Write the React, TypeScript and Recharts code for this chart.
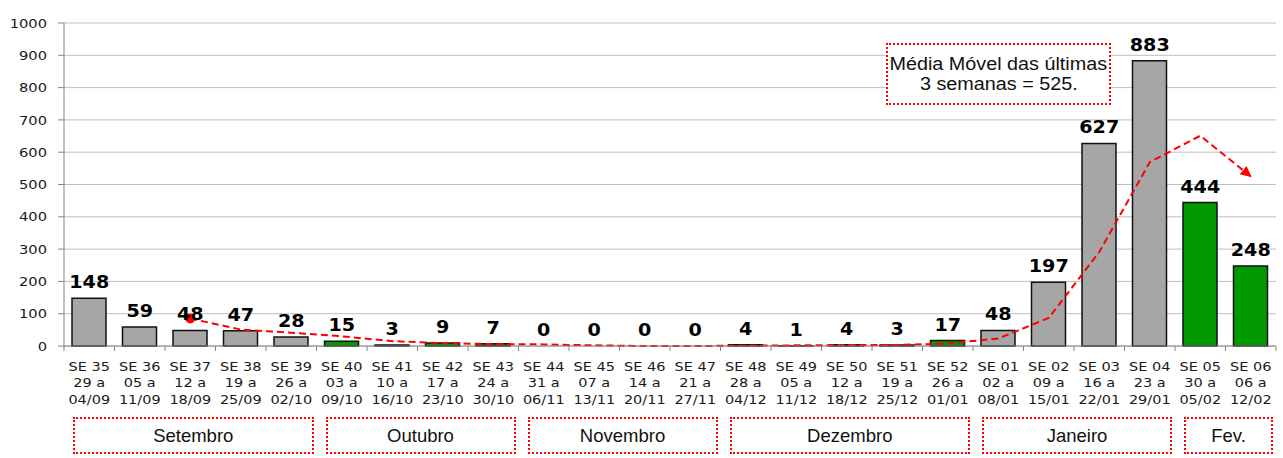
import React from 'react';
import { ComposedChart, Bar, Line, XAxis, YAxis, CartesianGrid, Cell, LabelList } from 'recharts';

const weeks = ['SE 35','SE 36','SE 37','SE 38','SE 39','SE 40','SE 41','SE 42','SE 43','SE 44','SE 45','SE 46','SE 47','SE 48','SE 49','SE 50','SE 51','SE 52','SE 01','SE 02','SE 03','SE 04','SE 05','SE 06'];
const weekStarts = ['29 a','05 a','12 a','19 a','26 a','03 a','10 a','17 a','24 a','31 a','07 a','14 a','21 a','28 a','05 a','12 a','19 a','26 a','02 a','09 a','16 a','23 a','30 a','06 a'];
const weekEnds = ['04/09','11/09','18/09','25/09','02/10','09/10','16/10','23/10','30/10','06/11','13/11','20/11','27/11','04/12','11/12','18/12','25/12','01/01','08/01','15/01','22/01','29/01','05/02','12/02'];
const cases = [148,59,48,47,28,15,3,9,7,0,0,0,0,4,1,4,3,17,48,197,627,883,444,248];
const movingAvg: (number | null)[] = [null,null,85,51,41,30,15,9,6,5,2,0,0,1,2,3,3,8,23,87,291,569,651,525];
const greenWeeks = ['SE 40','SE 42','SE 43','SE 52','SE 05','SE 06'];
const yTicks = [0,100,200,300,400,500,600,700,800,900,1000];
const monthNames = ['Setembro','Outubro','Novembro','Dezembro','Janeiro','Fev.'];
const monthWeekCounts = [5,4,4,5,4,2];
const noteLines = ['Média Móvel das últimas','3 semanas = 525.'];

const data = weeks.map((w, i) => ({ week: w, cases: cases[i], avg: movingAvg[i] }));

const W = 1283;
const H = 458;
const PLOT_LEFT = 64;
const PLOT_RIGHT = 1276;
const BAND = (PLOT_RIGHT - PLOT_LEFT) / weeks.length;
const FONT = '"DejaVu Sans", Verdana, sans-serif';
const ARIAL = '"Liberation Sans", Arial, sans-serif';

const SText = ({ x, y, sx, children, ...rest }: any) => (
  <text transform={`translate(${x},${y}) scale(${sx},1)`} x={0} y={0} {...rest}>{children}</text>
);

const YTick = ({ x, y, payload }: any) => (
  <SText x={x} y={y} sx={1.13} textAnchor="end" dominantBaseline="central" fontSize={13} fontFamily={FONT} fill="#1a1a1a">
    {payload.value}
  </SText>
);

const XTick = ({ x, y, payload }: any) => {
  const i = weeks.indexOf(payload.value);
  const lines = [weeks[i], weekStarts[i], weekEnds[i]];
  return (
    <g>
      <line x1={x - BAND / 2} x2={x - BAND / 2} y1={y} y2={y + 5} stroke="#868686" />
      {i === weeks.length - 1 && <line x1={x + BAND / 2} x2={x + BAND / 2} y1={y} y2={y + 5} stroke="#868686" />}
      {lines.map((t, k) => (
        <SText key={k} x={x} y={y + 24.7 + k * 16.7} sx={1.16} textAnchor="middle" fontSize={12.5} fontFamily={FONT} fill="#1a1a1a">
          {t}
        </SText>
      ))}
    </g>
  );
};

const ValueLabel = ({ x, y, value }: any) => (
  <SText x={x} y={y - 10} sx={1.1} textAnchor="middle" fontSize={17.4} fontWeight="bold" fontFamily={FONT} fill="#000">
    {value}
  </SText>
);

const renderDot = (props: any) => {
  const { cx, cy, index } = props;
  if (index === 2) return <circle key={`dot${index}`} cx={cx} cy={cy} r={5} fill="#FF0000" />;
  return <g key={`dot${index}`} />;
};

export default function App() {
  let acc = 0;
  const monthBoxes = monthNames.map((name, m) => {
    const first = acc;
    acc += monthWeekCounts[m];
    const left = PLOT_LEFT + first * BAND + 9;
    const width = monthWeekCounts[m] * BAND - 12;
    return (
      <div
        key={name}
        style={{
          position: 'absolute', left, top: 417, width, height: 37, boxSizing: 'border-box',
          border: '2px dotted #FF0000', display: 'flex', alignItems: 'center', justifyContent: 'center',
          fontFamily: ARIAL, fontSize: 18.5, color: '#111', background: '#fff',
        }}
      >
        {name}
      </div>
    );
  });

  return (
    <div style={{ position: 'absolute', left: 0, top: 0, width: W, height: H, background: '#fff', overflow: 'hidden' }}>
      <ComposedChart width={W} height={H} data={data} margin={{ top: 23, right: W - PLOT_RIGHT, bottom: 0, left: 0 }}>
        <defs>
          <marker id="arrowEnd" viewBox="0 0 10 10" refX="9" refY="5" markerWidth="11" markerHeight="11" markerUnits="userSpaceOnUse" orient="auto">
            <path d="M0,0 L10,5 L0,10 z" fill="#FF0000" />
          </marker>
        </defs>
        <CartesianGrid vertical={false} stroke="#BFBFBF" strokeWidth={1} />
        <XAxis
          dataKey="week"
          interval={0}
          height={H - 346}
          tickSize={0}
          tickMargin={0}
          tickLine={false}
          axisLine={{ stroke: '#868686' }}
          tick={<XTick />}
        />
        <YAxis
          width={PLOT_LEFT}
          domain={[0, 1000]}
          ticks={yTicks}
          interval={0}
          tickSize={6}
          tickMargin={11}
          tickLine={{ stroke: '#868686' }}
          axisLine={{ stroke: '#868686' }}
          tick={<YTick />}
        />
        <Bar dataKey="cases" barSize={34} stroke="#111" strokeWidth={1.5} isAnimationActive={false}>
          {data.map((d) => (
            <Cell key={d.week} fill={greenWeeks.includes(d.week) ? '#009900' : '#A6A6A6'} />
          ))}
        </Bar>
        <Line
          dataKey="avg"
          type="linear"
          stroke="#FF0000"
          strokeWidth={2}
          strokeDasharray="7 4"
          dot={renderDot}
          activeDot={false}
          markerEnd="url(#arrowEnd)"
          isAnimationActive={false}
        />
        <Line dataKey="cases" stroke="none" dot={false} activeDot={false} isAnimationActive={false}>
          <LabelList dataKey="cases" content={<ValueLabel />} />
        </Line>
      </ComposedChart>
      {monthBoxes}
      <div
        style={{
          position: 'absolute', left: 886, top: 43, width: 225, height: 62, boxSizing: 'border-box',
          border: '2px dotted #FF0000', background: '#fff', display: 'flex', flexDirection: 'column',
          alignItems: 'center', justifyContent: 'center', fontFamily: ARIAL, fontSize: 17.5, lineHeight: '20px', color: '#111',
        }}
      >
        {noteLines.map((t) => (
          <span key={t} style={{ display: 'inline-block', transform: 'scaleX(1.13)', whiteSpace: 'nowrap' }}>{t}</span>
        ))}
      </div>
    </div>
  );
}
